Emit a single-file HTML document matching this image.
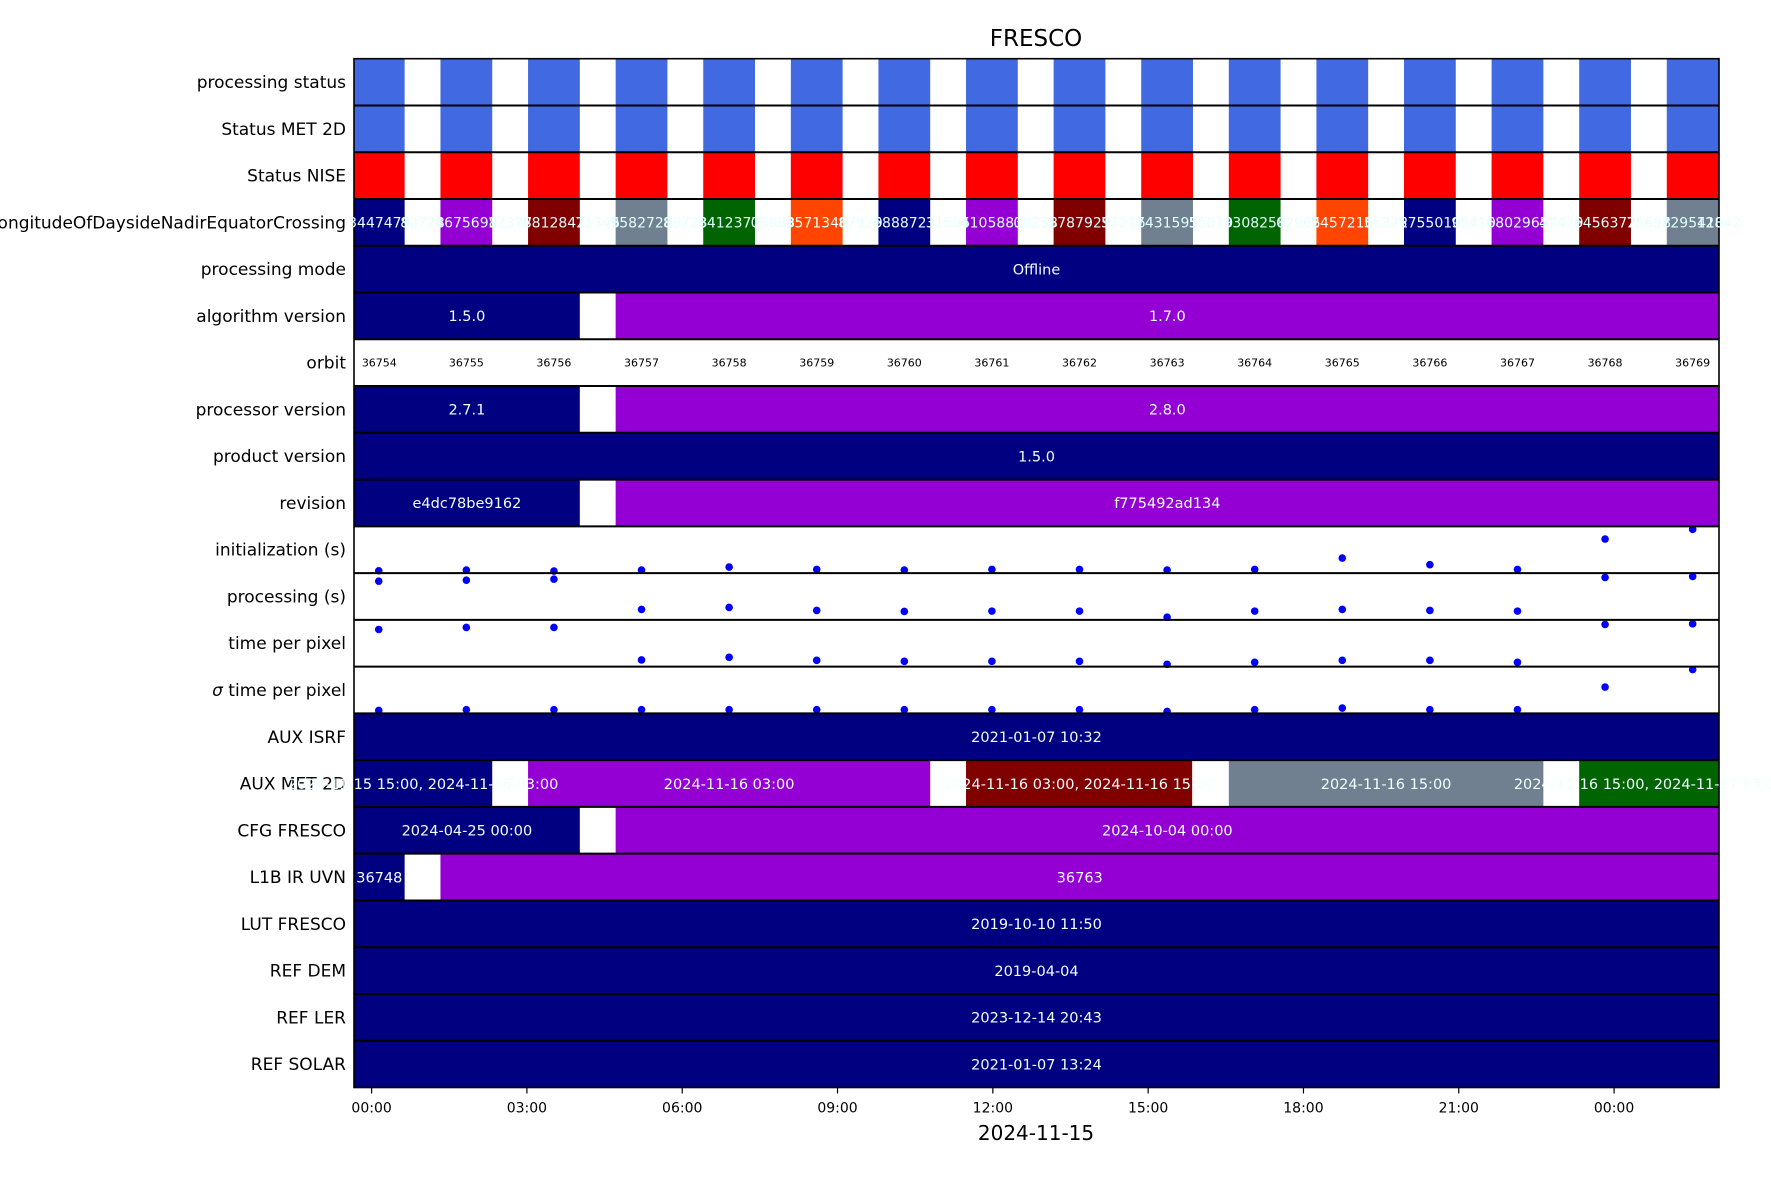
<!DOCTYPE html>
<html><head><meta charset="utf-8"><style>
html,body{margin:0;padding:0;background:#fff;}
svg{display:block;font-family:"DejaVu Sans","Liberation Sans",sans-serif;}
</style></head><body>
<svg id="chart" width="1771" height="1181" viewBox="0 0 1771 1181" xmlns="http://www.w3.org/2000/svg">
<text x="1036" y="46" font-size="23" text-anchor="middle">FRESCO</text>
<text x="1036" y="1140" font-size="20" text-anchor="middle">2024-11-15</text>
<g id="rows"></g><g id="labels"></g><g id="axis"></g>
</svg>
<script>
const rowNames=["processing status","Status MET 2D","Status NISE","LongitudeOfDaysideNadirEquatorCrossing","processing mode","algorithm version","orbit","processor version","product version","revision","initialization (s)","processing (s)","time per pixel","\u03c3 time per pixel","AUX ISRF","AUX MET 2D","CFG FRESCO","L1B IR UVN","LUT FRESCO","REF DEM","REF LER","REF SOLAR"];
const orbits=[36754,36755,36756,36757,36758,36759,36760,36761,36762,36763,36764,36765,36766,36767,36768,36769];
const orbitStart=[-0.362,1.33,3.022,4.714,6.406,8.098,9.79,11.482,13.174,14.866,16.558,18.25,19.942,21.634,23.326,25.018];
const lonLabels=["3447479","4675698","8812842","9582728","8412377","9571346","6888723","4105883","5787929","7431595","9308258","2457216","5755010","6802965","6456372","7295410"];
const initVals=[0.05,0.064,0.043,0.064,0.129,0.079,0.064,0.079,0.079,0.064,0.079,0.321,0.179,0.079,0.729,0.936];
const procVals=[0.827,0.849,0.871,0.223,0.266,0.201,0.18,0.187,0.187,0.058,0.187,0.223,0.201,0.187,0.906,0.928];
const tppVals=[0.794,0.837,0.837,0.142,0.199,0.135,0.113,0.113,0.113,0.05,0.092,0.135,0.135,0.092,0.901,0.915];
const sigVals=[0.064,0.079,0.079,0.079,0.079,0.079,0.079,0.079,0.079,0.043,0.079,0.114,0.079,0.079,0.564,0.936];
const tickHours=[0,3,6,9,12,15,18,21,24];
const tickLabels=["00:00","03:00","06:00","09:00","12:00","15:00","18:00","21:00","00:00"];
const spans=[
[4,-1,27,"#000080","Offline"],
[5,-1,4.022,"#000080","1.5.0"],[5,4.714,27,"#9400d3","1.7.0"],
[7,-1,4.022,"#000080","2.7.1"],[7,4.714,27,"#9400d3","2.8.0"],
[8,-1,27,"#000080","1.5.0"],
[9,-1,4.022,"#000080","e4dc78be9162"],[9,4.714,27,"#9400d3","f775492ad134"],
[14,-1,27,"#000080","2021-01-07 10:32"],
[15,-1,2.33,"#000080","2024-11-15 15:00, 2024-11-16 03:00"],[15,3.022,10.79,"#9400d3","2024-11-16 03:00"],[15,11.482,15.85,"#800000","2024-11-16 03:00, 2024-11-16 15:00"],[15,16.558,22.634,"#708090","2024-11-16 15:00"],[15,23.326,27,"#006400","2024-11-16 15:00, 2024-11-17 03:00"],
[16,-1,4.022,"#000080","2024-04-25 00:00"],[16,4.714,27,"#9400d3","2024-10-04 00:00"],
[17,-1,0.638,"#000080","36748"],[17,1.33,27,"#9400d3","36763"],
[18,-1,27,"#000080","2019-10-10 11:50"],[19,-1,27,"#000080","2019-04-04"],[20,-1,27,"#000080","2023-12-14 20:43"],[21,-1,27,"#000080","2021-01-07 13:24"]
];
const lonColors=["#000080","#9400d3","#800000","#708090","#006400","#ff4500"];
const L=354,R=1719,T=58.7,B=1087.5,RH=(B-T)/22,X0=371.6,PH=51.77;
const H0=(L-X0)/PH,H1=(R-X0)/PH;
const xs=h=>X0+h*PH;
const clampH=h=>Math.max(H0,Math.min(H1,h));
const NS="http://www.w3.org/2000/svg";
const rowsG=document.getElementById('rows'),labG=document.getElementById('labels'),axisG=document.getElementById('axis');
function mk(tag,attrs,parent){const e=document.createElementNS(NS,tag);for(const k in attrs)e.setAttribute(k,attrs[k]);parent.appendChild(e);return e;}
function rect(h0,h1,row,fill){const a=xs(clampH(h0)),b=xs(clampH(h1));if(b<=a)return null;
 return mk('rect',{x:a,y:T+row*RH,width:b-a,height:RH,fill:fill},rowsG);}
function label(h0,h1,row,txt,size,fill){const a=clampH(h0),b=clampH(h1);
 const t=mk('text',{x:xs((a+b)/2),y:T+row*RH+RH/2+size*0.36,'font-size':size,'text-anchor':'middle',fill:fill||'#fff'},labG);t.textContent=txt;return t;}
rowNames.forEach((n,i)=>{const t=mk('text',{x:L-8,y:T+i*RH+RH/2+6,'font-size':17,'text-anchor':'end'},rowsG);


if(i===13){const s=mk('tspan',{'font-style':'italic'},t);s.textContent='\u03c3';const r=mk('tspan',{},t);r.textContent=' time per pixel';}
else t.textContent=n;});
orbitStart.forEach((s,k)=>{
 const e=s+1.0;
 let r=rect(s,e,0,"#4169e1");
 if(r){
 }
 r=rect(s,e,1,"#4169e1");
 if(r){
 }
 r=rect(s,e,2,"#ff0000");
 if(r){
 }
 r=rect(s,e,3,lonColors[k%6]);
 if(r){
 }
});
spans.forEach(sp=>{
 const r=rect(sp[1],sp[2],sp[0],sp[3]);
 
 
});
orbitStart.forEach((s,k)=>{
 let t=label(s,s+1.0,3,lonLabels[k],14,'#e0ffff');
 
 
 t=label(s+1.0,s+1.69,3,lonLabels[(k+3)%16].slice(2),14,'#e8ffff');
 
 
 t=label(s,s+1.0,6,String(orbits[k]),11,'#000');
 
 
});
spans.forEach(sp=>{
 const t=label(sp[1],sp[2],sp[0],sp[4],14.5,'#f0ffff');
 
 
});
[[10,initVals],[11,procVals],[12,tppVals],[13,sigVals]].forEach(([row,vals])=>{
 vals.forEach((v,k)=>{
  const c=mk('circle',{cx:xs(orbitStart[k]+0.5),cy:T+(row+1)*RH-v*RH,r:3.8,fill:'#0000ff'},rowsG);
  
  
 });
});
for(let i=1;i<22;i++){const l=mk('line',{x1:L,x2:R,y1:T+i*RH,y2:T+i*RH,stroke:'#000','stroke-width':2},rowsG);
 
 }
const fr=mk('rect',{x:L,y:T,width:R-L,height:B-T,fill:'none',stroke:'#000','stroke-width':1.6},rowsG);


tickHours.forEach((h,i)=>{
 const x=xs(h);
 const l=mk('line',{x1:x,x2:x,y1:B,y2:B+6,stroke:'#000','stroke-width':1.2},axisG);
 
 
 const t=mk('text',{x:x,y:B+25,'font-size':14,'text-anchor':'middle'},axisG);
 
 
 t.textContent=tickLabels[i];
});
</script>
</body></html>
